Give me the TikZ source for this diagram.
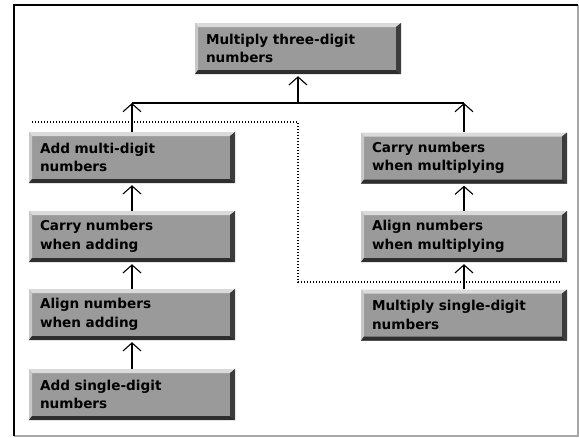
\documentclass[tikz,border=0pt]{standalone}
\usepackage{fontspec}
\setmainfont{DejaVu Sans}
\usetikzlibrary{arrows.meta}

\definecolor{btnface}{HTML}{9A9A9A}
\definecolor{btnlight}{HTML}{DADADA}
\definecolor{btnlightside}{HTML}{C8C8C8}
\definecolor{btndark}{HTML}{2E2E2E}
\definecolor{btndarkside}{HTML}{3C3C3C}
\definecolor{framegray}{HTML}{A8A8A8}

\tikzset{
  btn/.style={
    rectangle, fill=btnface, minimum width=200pt, minimum height=51pt,
    text width=184pt, inner xsep=11pt, inner ysep=0pt, align=left,
    font=\fontsize{13.6}{18.5}\selectfont\bfseries,
    path picture={
      % raised bevel: light top/left, dark bottom/right
      \fill[btnlight] (path picture bounding box.north west) -- (path picture bounding box.north east)
        -- ([xshift=-5pt,yshift=-4pt]path picture bounding box.north east)
        -- ([xshift=3pt,yshift=-4pt]path picture bounding box.north west) -- cycle;
      \fill[btnlightside] (path picture bounding box.north west)
        -- ([xshift=3pt,yshift=-4pt]path picture bounding box.north west)
        -- ([xshift=3pt,yshift=4pt]path picture bounding box.south west)
        -- (path picture bounding box.south west) -- cycle;
      \fill[btndark] (path picture bounding box.south west) -- (path picture bounding box.south east)
        -- ([xshift=-5pt,yshift=4pt]path picture bounding box.south east)
        -- ([xshift=3pt,yshift=4pt]path picture bounding box.south west) -- cycle;
      \fill[btndarkside] (path picture bounding box.north east)
        -- (path picture bounding box.south east)
        -- ([xshift=-5pt,yshift=4pt]path picture bounding box.south east)
        -- ([xshift=-5pt,yshift=-4pt]path picture bounding box.north east) -- cycle;
    }
  },
  tree/.style={line width=1.6pt},
  uparrow/.style={-{Straight Barb[length=8pt,width=18pt,line width=1.1pt]}},
  gapped/.style={shorten >=2pt},
  region/.style={line width=1.1pt, dash pattern=on 1.4pt off 1.6pt}
}

\begin{document}
\begin{tikzpicture}[x=1pt,y=-1pt]
  \useasboundingbox (0,0) rectangle (579,437);

  % frame
  \draw[framegray, line width=2pt] (14,436) -- (577.5,436) -- (577.5,5);
  \draw[black, line width=2pt] (14,436) -- (14,5) -- (578,5);

  % dotted region boundary
  \coordinate (d1) at (32,122);
  \coordinate (d2) at (298,122);
  \coordinate (d3) at (298,282);
  \coordinate (d4) at (560,282);
  \draw[region] (d1) -- (d2) -- (d3) -- (d4);

  % boxes
  \node[btn] (top) at (298,48.5) {Multiply three-digit\\numbers};

  \node[btn] (L1) at (132,157.5) {Add multi-digit\\numbers};
  \node[btn] (L2) at (132,236.5) {Carry numbers\\when adding};
  \node[btn] (L3) at (132,314.5) {Align numbers\\when adding};
  \node[btn] (L4) at (132,394.5) {Add single-digit\\numbers};

  \node[btn] (R1) at (464,158) {Carry numbers\\when multiplying};
  \node[btn] (R2) at (464,236.5) {Align numbers\\when multiplying};
  \node[btn] (R3) at (464,315) {Multiply single-digit\\numbers};

  % tree connectors
  \coordinate (jl) at (132,103);
  \coordinate (jm) at (298,103);
  \coordinate (jr) at (464,103);
  \draw[tree] (jl) -- (jr);
  \draw[tree,uparrow,gapped] (jm) -- (top.south);
  \draw[tree,uparrow] (L1.north) -- (jl);
  \draw[tree,uparrow] (R1.north) -- (jr);

  \draw[tree,uparrow,gapped] (L2.north) -- (L1.south);
  \draw[tree,uparrow,gapped] (L3.north) -- (L2.south);
  \draw[tree,uparrow,gapped] (L4.north) -- (L3.south);

  \draw[tree,uparrow,gapped] (R2.north) -- (R1.south);
  \draw[tree,uparrow,gapped] (R3.north) -- (R2.south);
\end{tikzpicture}
\end{document}
